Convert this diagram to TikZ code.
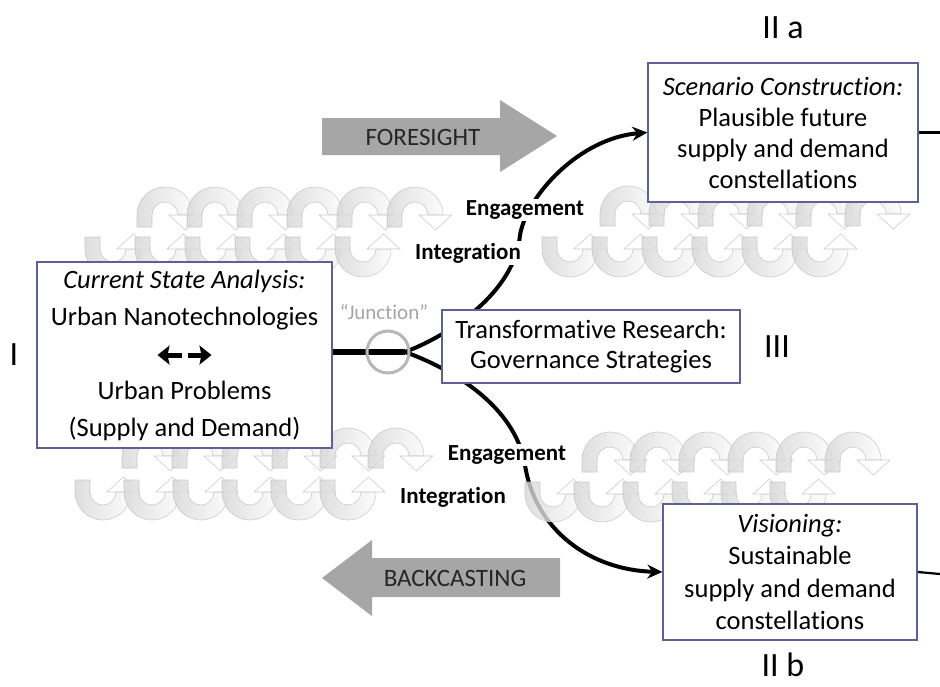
\documentclass[tikz,border=0pt]{standalone}
\usepackage{fontspec}
\setmainfont{Carlito}[Ligatures=NoCommon]
\usetikzlibrary{arrows.meta,backgrounds}
\definecolor{boxc}{RGB}{96,96,150}
\definecolor{arrowgrey}{RGB}{166,166,166}
\definecolor{txtgrey}{RGB}{38,38,38}
\definecolor{spirline}{RGB}{192,192,192}
\definecolor{junc}{RGB}{165,165,165}
\tikzset{
  box/.style={draw=boxc, line width=1.3pt, fill=white, align=center, inner sep=0pt, text=black},
  lab/.style={fill=white, inner sep=1.5pt, font=\fontsize{23}{26}\selectfont\bfseries},
  roman/.style={font=\fontsize{34}{40}\selectfont, inner sep=0pt},
  bigarrow/.style={fill=arrowgrey, draw=none},
  arrowtext/.style={font=\fontsize{25}{28}\selectfont, text=txtgrey, inner sep=0pt},
  stem/.style={line width=5.5pt},
  flow/.style={line width=4pt, -{Stealth[length=15pt,width=14pt]}},
  edgeline/.style={line width=2.2pt},
  spiral/.style={draw=spirline, line width=0.6pt, left color=gray!32, right color=gray!3, opacity=0.8},
  spiralhead/.style={draw=spirline, line width=0.6pt, fill=white, opacity=0.8},
  caparc/.pic={
    \draw[spiral] (-28,12) -- (-28,0) .. controls (-28,-15.5) and (-15.5,-28) .. (0,-28)
      .. controls (15.5,-28) and (28,-15.5) .. (28,0) -- (13,0)
      .. controls (13,-7.2) and (7.2,-13) .. (0,-13)
      .. controls (-7.2,-13) and (-13,-7.2) .. (-13,0) -- (-13,12) -- cycle;
    \draw[spiralhead] (37,0) -- (20.5,15) -- (4,0) -- cycle;
  },
  cuparc/.pic={
    \draw[spiral] (-28,-12) -- (-28,0) .. controls (-28,15.5) and (-15.5,28) .. (0,28)
      .. controls (15.5,28) and (28,15.5) .. (28,0) -- (13,0)
      .. controls (13,7.2) and (7.2,13) .. (0,13)
      .. controls (-7.2,13) and (-13,7.2) .. (-13,0) -- (-13,-12) -- cycle;
    \draw[spiralhead] (37,0) -- (20.5,-15) -- (4,0) -- cycle;
  },
}
\newcommand\dblarrows{\tikz[x=1pt,y=1pt,baseline=-7pt]{%
  \draw[line width=5pt,-{Stealth[length=12pt,width=19pt,inset=2pt]}] (0,0) -- (-24,0);
  \draw[line width=5pt,-{Stealth[length=12pt,width=19pt,inset=2pt]}] (6,0) -- (30,0);}}
\begin{document}
\begin{tikzpicture}[x=1pt, y=-1pt]
\useasboundingbox (0,0) rectangle (940,686);

\coordinate (fork) at (405,352);
\coordinate (upmid) at (520,235);
\coordinate (lowmid) at (525,465);
\coordinate (edgeA) at (940,132.5);
\coordinate (edgeB) at (940,574);

% boxes
\node[box, minimum width=295pt, minimum height=186pt, font=\fontsize{26.5}{37}\selectfont] (cur) at (184.5,355)
  {\textit{Current State Analysis:}\\Urban Nanotechnologies\\\dblarrows\\Urban Problems\\(Supply and Demand)};
\node[box, minimum width=270pt, minimum height=139pt, font=\fontsize{26.5}{31}\selectfont] (scen) at (783,132.5)
  {\textit{Scenario Construction:}\\Plausible future\\supply and demand\\constellations};
\node[box, minimum width=254pt, minimum height=136pt, font=\fontsize{26.5}{32.5}\selectfont] (vis) at (790,572)
  {\textit{Visioning:}\\Sustainable\\supply and demand\\constellations};
\node[box, minimum width=298pt, minimum height=73pt, font=\fontsize{26.5}{30}\selectfont] (trans) at (591,346.5)
  {Transformative Research:\\Governance Strategies};

% labels
\node[lab] (eng1) at (525,210) {Engagement};
\node[lab] (int1) at (468,253) {Integration};
\node[lab] (eng2) at (507,455) {Engagement};
\node[lab] (int2) at (453,497) {Integration};

\node[roman] (rI) at (14,355) {I};
\node[roman] (rIIa) at (783,28) {II a};
\node[roman] (rIIb) at (783,665) {II b};
\node[roman] (rIII) at (777,347) {III};

% big grey arrows
\draw[bigarrow] (322,118) -- (500,118) -- (500,100) -- (557,136) -- (500,172) -- (500,155) -- (322,155) -- cycle;
\node[arrowtext] (fore) at (423,137) {FORESIGHT};
\draw[bigarrow] (560,558) -- (372,558) -- (372,540) -- (322,578) -- (372,616) -- (372,597) -- (560,597) -- cycle;
\node[arrowtext] (back) at (455,578) {BACKCASTING};

\begin{scope}[on background layer]
  % connectors
  \draw[stem] (fork -| cur.east) -- (fork);
  \draw[flow] (fork) .. controls (450,335) and (515,292) .. (upmid)
              .. controls (527,195) and (580,138) .. (scen.west);
  \draw[flow] (fork) .. controls (450,368) and (515,405) .. (lowmid)
              .. controls (535,530) and (590,570) .. (vis.west);
  \draw[edgeline] (scen.east) -- (edgeA);
  \draw[edgeline] (vis.east) -- (edgeB);

  % spirals
  \foreach \cx in {165,215,265,315,365,415} \pic at (\cx,215) {caparc};
  \foreach \cx in {113,163,213,263,313,363} \pic at (\cx,249) {cuparc};
  \foreach \cx in {628,677,726,775,824,873} \pic at (\cx,214) {caparc};
  \foreach \cx in {570,620,670,720,770,820} \pic at (\cx,249) {cuparc};
  \foreach \cx in {150,200,250,300,348,396} \pic at (\cx,456) {caparc};
  \foreach \cx in {103,152,201,250,299,348} \pic at (\cx,492) {cuparc};
  \foreach \cx in {610,658,707,756,804,853} \pic at (\cx,460) {caparc};
  \foreach \cx in {553,602,651,700,749,798} \pic at (\cx,494) {cuparc};
\end{scope}

% junction
\node[draw=junc!80, line width=3pt, circle, minimum size=42pt, inner sep=0pt] (junction) at (388,352) {};
\node[font=\fontsize{21}{24}\selectfont, text=junc, inner sep=0pt] (junclab) at (384,312) {“Junction”};
\end{tikzpicture}
\end{document}
